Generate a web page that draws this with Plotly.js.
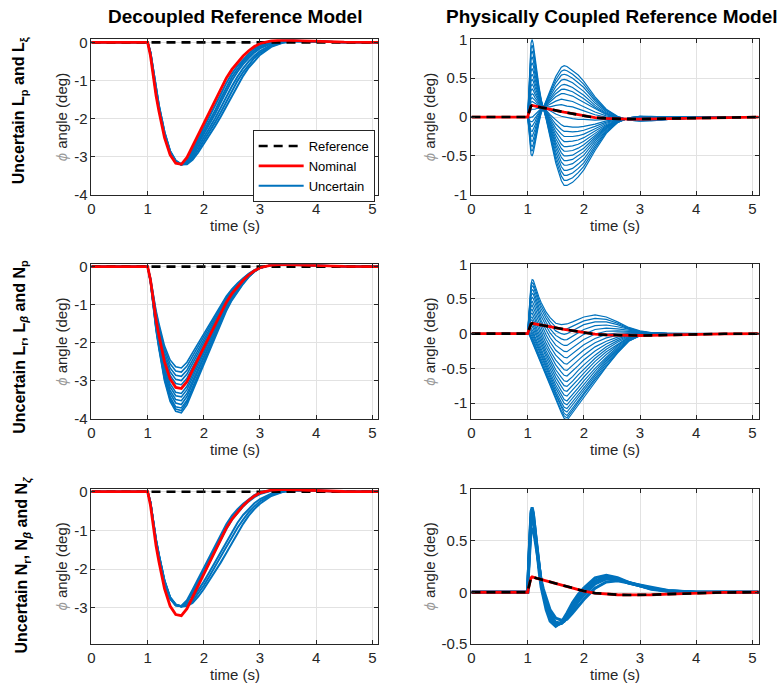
<!DOCTYPE html>
<html><head><meta charset="utf-8">
<script src="https://cdn.plot.ly/plotly-3.0.1.min.js"></script>
<style>html,body{margin:0;padding:0;background:#fff}#chart{width:782px;height:693px}</style>
</head><body><div id="chart"></div>
<script>
// ---------- time grids ----------
const T_DEC = [0,1.0,1.05,1.1,1.15,1.2,1.3,1.4,1.5,1.6,1.7,1.8,1.9,2.0,2.1,2.2,2.3,2.4,2.5,2.6,2.7,2.8,2.9,3.0,3.2,3.4,3.6,3.8,4.0,4.5,5.12];
const T_CPL = [0,1.0,1.02,1.04,1.06,1.08,1.10,1.13,1.16,1.2,1.24,1.28,1.33,1.4,1.5,1.6,1.65,1.7,1.8,1.9,2.0,2.2,2.4,2.6,2.8,3.0,3.2,3.5,4.0,4.5,5.12];

// ---------- decoupled reference model (left column) ----------
const REF_DEC_T = [0, 5.12];
const REF_DEC = [0, 0];
const NOM_DEC = [0,0,-.35,-.9,-1.4,-1.8,-2.5,-2.95,-3.17,-3.2,-3.02,-2.72,-2.42,-2.13,-1.83,-1.53,-1.22,-.94,-.71,-.52,-.36,-.22,-.11,-.03,.04,.06,.05,.03,.02,.005,0];

const UNC_DEC_LP = [
  [0,0,-.32,-.86,-1.36,-1.76,-2.46,-2.93,-3.16,-3.21,-3.08,-2.82,-2.53,-2.27,-1.99,-1.69,-1.37,-1.07,-.82,-.62,-.45,-.30,-.17,-.08,.02,.05,.05,.03,.02,.005,0],
  [0,0,-.3,-.84,-1.34,-1.74,-2.44,-2.92,-3.15,-3.21,-3.11,-2.87,-2.6,-2.34,-2.07,-1.79,-1.48,-1.18,-.91,-.7,-.51,-.36,-.22,-.12,0,.04,.045,.03,.02,.005,0],
  [0,0,-.29,-.82,-1.32,-1.72,-2.42,-2.9,-3.14,-3.21,-3.13,-2.92,-2.66,-2.41,-2.15,-1.88,-1.58,-1.28,-1.0,-.77,-.57,-.41,-.27,-.16,-.03,.03,.04,.03,.02,.005,0],
  [0,0,-.27,-.78,-1.28,-1.68,-2.38,-2.87,-3.12,-3.21,-3.17,-2.98,-2.74,-2.5,-2.26,-2.0,-1.72,-1.42,-1.15,-.9,-.68,-.5,-.35,-.23,-.07,0,.03,.03,.02,.005,0],
  [0,0,-.265,-.77,-1.26,-1.66,-2.36,-2.86,-3.11,-3.2,-3.19,-3.04,-2.82,-2.59,-2.35,-2.1,-1.84,-1.55,-1.27,-1.01,-.78,-.58,-.41,-.28,-.1,-.005,.03,.03,.02,.005,0],
  [0,0,-.26,-.76,-1.25,-1.65,-2.35,-2.85,-3.1,-3.2,-3.2,-3.08,-2.89,-2.67,-2.44,-2.2,-1.95,-1.68,-1.4,-1.12,-.88,-.66,-.48,-.33,-.12,-.01,.03,.03,.02,.005,0]
];

const UNC_DEC_LR = [
  [0,0,-.29,-.75,-1.16,-1.49,-2.08,-2.45,-2.63,-2.66,-2.51,-2.26,-2.01,-1.77,-1.52,-1.27,-1.01,-.78,-.59,-.43,-.3,-.18,-.09,-.02,.03,.05,.04,.025,.017,.004,0],
  [0,0,-.30,-.78,-1.21,-1.56,-2.16,-2.55,-2.74,-2.77,-2.61,-2.35,-2.09,-1.84,-1.58,-1.32,-1.06,-.81,-.61,-.45,-.31,-.19,-.1,-.03,.035,.05,.043,.026,.017,.004,0],
  [0,0,-.32,-.81,-1.26,-1.62,-2.25,-2.66,-2.85,-2.88,-2.72,-2.45,-2.18,-1.92,-1.65,-1.38,-1.1,-.85,-.64,-.47,-.32,-.2,-.1,-.03,.036,.054,.045,.027,.018,.005,0],
  [0,0,-.33,-.84,-1.31,-1.68,-2.34,-2.76,-2.96,-2.99,-2.82,-2.54,-2.26,-1.99,-1.71,-1.43,-1.14,-.88,-.66,-.49,-.34,-.21,-.1,-.03,.04,.056,.047,.028,.019,.005,0],
  [0,0,-.34,-.87,-1.36,-1.75,-2.43,-2.86,-3.07,-3.1,-2.93,-2.64,-2.35,-2.07,-1.78,-1.48,-1.18,-.91,-.69,-.5,-.35,-.21,-.11,-.03,.04,.06,.05,.03,.02,.005,0],
  [0,0,-.36,-.94,-1.46,-1.87,-2.6,-3.07,-3.3,-3.33,-3.14,-2.83,-2.52,-2.23,-1.92,-1.61,-1.29,-1.0,-.76,-.56,-.39,-.24,-.12,-.04,.04,.06,.05,.03,.02,.005,0],
  [0,0,-.37,-.96,-1.5,-1.93,-2.68,-3.16,-3.39,-3.42,-3.23,-2.91,-2.59,-2.28,-1.96,-1.64,-1.31,-1.01,-.76,-.56,-.39,-.24,-.12,-.03,.04,.064,.054,.032,.021,.005,0],
  [0,0,-.38,-.99,-1.54,-1.98,-2.75,-3.25,-3.49,-3.52,-3.33,-3.0,-2.68,-2.37,-2.05,-1.72,-1.38,-1.07,-.81,-.6,-.42,-.26,-.13,-.04,.04,.07,.055,.033,.022,.005,0],
  [0,0,-.4,-1.02,-1.58,-2.03,-2.83,-3.33,-3.58,-3.62,-3.41,-3.07,-2.74,-2.41,-2.07,-1.73,-1.38,-1.06,-.8,-.59,-.41,-.25,-.12,-.03,.045,.068,.056,.034,.023,.006,0],
  [0,0,-.4,-1.04,-1.62,-2.09,-2.9,-3.42,-3.68,-3.71,-3.51,-3.17,-2.83,-2.5,-2.16,-1.82,-1.46,-1.13,-.86,-.64,-.44,-.27,-.14,-.04,.05,.07,.06,.035,.023,.006,0],
  [0,0,-.41,-1.06,-1.65,-2.12,-2.95,-3.48,-3.74,-3.78,-3.56,-3.21,-2.86,-2.51,-2.16,-1.81,-1.44,-1.11,-.84,-.61,-.43,-.26,-.13,-.04,.047,.07,.06,.035,.024,.006,0],
  [0,0,-.42,-1.08,-1.68,-2.16,-3.0,-3.54,-3.8,-3.84,-3.63,-3.28,-2.93,-2.59,-2.24,-1.88,-1.51,-1.17,-.89,-.66,-.46,-.28,-.14,-.04,.05,.07,.06,.036,.024,.006,0]
];

const UNC_DEC_NR = [
  [0,0,-.3,-.82,-1.3,-1.68,-2.35,-2.76,-2.93,-2.95,-2.8,-2.53,-2.25,-1.97,-1.68,-1.39,-1.1,-.84,-.62,-.45,-.31,-.19,-.09,-.02,.04,.06,.05,.03,.02,.005,0],
  [0,0,-.295,-.81,-1.29,-1.67,-2.34,-2.755,-2.93,-2.955,-2.83,-2.58,-2.31,-2.03,-1.75,-1.46,-1.17,-.9,-.67,-.49,-.34,-.22,-.11,-.04,.03,.055,.05,.03,.02,.005,0],
  [0,0,-.29,-.8,-1.28,-1.66,-2.33,-2.75,-2.93,-2.96,-2.86,-2.63,-2.37,-2.1,-1.82,-1.53,-1.24,-.97,-.73,-.54,-.38,-.25,-.14,-.06,.02,.05,.05,.03,.02,.005,0],
  [0,0,-.28,-.78,-1.26,-1.64,-2.31,-2.74,-2.92,-2.96,-2.91,-2.76,-2.55,-2.32,-2.07,-1.81,-1.54,-1.28,-1.03,-.8,-.6,-.44,-.3,-.19,-.05,.02,.04,.03,.02,.005,0],
  [0,0,-.275,-.775,-1.25,-1.63,-2.3,-2.73,-2.915,-2.96,-2.93,-2.82,-2.63,-2.42,-2.18,-1.94,-1.69,-1.43,-1.18,-.93,-.72,-.53,-.38,-.25,-.08,0,.035,.03,.02,.005,0],
  [0,0,-.27,-.77,-1.24,-1.62,-2.29,-2.72,-2.91,-2.96,-2.95,-2.87,-2.71,-2.51,-2.29,-2.06,-1.83,-1.58,-1.32,-1.06,-.83,-.62,-.45,-.31,-.11,-.01,.03,.03,.02,.005,0]
];

// ---------- physically coupled reference model (right column) ----------
const REF_CPL = [0,0,.05,.1,.14,.15,.148,.14,.135,.13,.124,.118,.112,.10,.085,.07,.062,.055,.04,.025,.012,-.008,-.018,-.024,-.026,-.026,-.024,-.018,-.008,-.002,0];
const NOM_CPL = [0,0,.05,.1,.14,.15,.148,.14,.135,.13,.124,.118,.112,.10,.085,.07,.062,.055,.04,.025,.012,-.008,-.018,-.024,-.026,-.026,-.024,-.018,-.008,-.002,0];

const UNC_CPL_LP = [
  [0,0,.31,.70,.95,1.0,.94,.78,.60,.40,.23,.12,-.03,-.26,-.59,-.82,-.88,-.88,-.84,-.77,-.68,-.43,-.21,-.07,-.01,.01,.01,0,0,0,0],
  [0,0,.285,.645,.88,.925,.87,.725,.56,.375,.22,.12,-.02,-.235,-.545,-.76,-.815,-.815,-.78,-.715,-.635,-.40,-.195,-.07,-.01,.01,.005,0,0,0,0],
  [0,0,.26,.59,.81,.85,.80,.67,.52,.35,.21,.12,-.01,-.21,-.50,-.70,-.75,-.75,-.72,-.66,-.59,-.37,-.18,-.07,-.01,.01,0,0,0,0,0],
  [0,0,.24,.54,.735,.775,.73,.61,.48,.33,.20,.12,0,-.185,-.45,-.64,-.685,-.685,-.66,-.605,-.54,-.34,-.165,-.065,-.01,.005,0,0,0,0,0],
  [0,0,.22,.49,.66,.70,.66,.55,.44,.31,.19,.12,.01,-.16,-.40,-.58,-.62,-.62,-.60,-.55,-.49,-.31,-.15,-.06,-.01,0,0,0,0,0,0],
  [0,0,.195,.435,.59,.625,.59,.495,.40,.285,.18,.12,.02,-.135,-.36,-.52,-.56,-.56,-.545,-.50,-.445,-.285,-.14,-.055,-.015,0,0,-.005,0,0,0],
  [0,0,.17,.38,.52,.55,.52,.44,.36,.26,.17,.12,.03,-.11,-.32,-.46,-.50,-.50,-.49,-.45,-.40,-.26,-.13,-.05,-.02,0,0,-.01,0,0,0],
  [0,0,.15,.335,.46,.485,.46,.39,.32,.24,.165,.12,.04,-.09,-.275,-.405,-.44,-.44,-.43,-.40,-.355,-.235,-.12,-.05,-.02,-.005,-.005,-.01,-.005,0,0],
  [0,0,.13,.29,.40,.42,.40,.34,.28,.22,.16,.12,.05,-.07,-.23,-.35,-.38,-.38,-.37,-.35,-.31,-.21,-.11,-.05,-.02,-.01,-.01,-.01,-.01,0,0],
  [0,0,.115,.25,.34,.36,.345,.295,.25,.20,.15,.12,.06,-.045,-.185,-.285,-.315,-.315,-.31,-.295,-.265,-.18,-.095,-.045,-.02,-.01,-.01,-.01,-.01,0,0],
  [0,0,.10,.21,.28,.30,.29,.25,.22,.18,.14,.12,.07,-.02,-.14,-.22,-.25,-.25,-.25,-.24,-.22,-.15,-.08,-.04,-.02,-.01,-.01,-.01,-.01,0,0],
  [0,0,.085,.175,.235,.25,.24,.215,.19,.165,.135,.12,.08,.005,-.09,-.16,-.185,-.185,-.19,-.185,-.17,-.12,-.065,-.035,-.02,-.015,-.015,-.01,-.01,0,0],
  [0,0,.07,.14,.19,.20,.19,.18,.16,.15,.13,.12,.09,.03,-.04,-.10,-.12,-.12,-.13,-.13,-.12,-.09,-.05,-.03,-.02,-.02,-.02,-.01,-.01,0,0],
  [0,0,.04,.07,.09,.10,.10,.10,.11,.11,.12,.12,.11,.08,.04,.01,0,0,-.02,-.03,-.03,-.04,-.03,-.03,-.03,-.02,-.02,-.02,-.01,0,0],
  [0,0,.01,-.01,0,0,.01,.03,.05,.08,.11,.12,.13,.13,.15,.16,.15,.14,.13,.10,.08,.03,0,-.02,-.03,-.03,-.03,-.02,-.01,0,0],
  [0,0,-.01,-.05,-.06,-.06,-.045,-.015,.02,.06,.10,.12,.14,.16,.205,.23,.225,.215,.20,.165,.135,.065,.015,-.015,-.03,-.035,-.03,-.02,-.01,0,0],
  [0,0,-.03,-.09,-.12,-.12,-.10,-.06,-.01,.04,.09,.12,.15,.19,.26,.30,.30,.29,.27,.23,.19,.10,.03,-.01,-.03,-.04,-.03,-.02,-.01,0,0],
  [0,0,-.05,-.135,-.18,-.185,-.16,-.11,-.05,.02,.085,.12,.16,.215,.30,.355,.36,.35,.325,.28,.235,.125,.04,-.01,-.03,-.04,-.035,-.025,-.01,0,0],
  [0,0,-.07,-.18,-.24,-.25,-.22,-.16,-.09,0,.08,.12,.17,.24,.34,.41,.42,.41,.38,.33,.28,.15,.05,-.01,-.03,-.04,-.04,-.03,-.01,0,0],
  [0,0,-.09,-.225,-.30,-.315,-.285,-.21,-.125,-.02,.07,.12,.18,.265,.39,.475,.485,.475,.44,.385,.33,.18,.065,-.005,-.035,-.045,-.04,-.03,-.01,0,0],
  [0,0,-.11,-.27,-.36,-.38,-.35,-.26,-.16,-.04,.06,.12,.19,.29,.44,.54,.55,.54,.50,.44,.38,.21,.08,0,-.04,-.05,-.04,-.03,-.01,0,0],
  [0,0,-.13,-.315,-.42,-.44,-.405,-.305,-.19,-.06,.055,.12,.195,.31,.48,.59,.605,.595,.55,.49,.42,.235,.09,.005,-.04,-.05,-.045,-.03,-.01,0,0],
  [0,0,-.15,-.36,-.48,-.50,-.46,-.35,-.22,-.08,.05,.12,.20,.33,.52,.64,.66,.65,.60,.54,.46,.26,.10,.01,-.04,-.05,-.05,-.03,-.01,0,0]
];

const UNC_CPL_LR = [
  [0,0,.25,.55,.72,.78,.77,.70,.62,.53,.45,.38,.31,.23,.15,.13,.13,.14,.17,.21,.24,.27,.24,.17,.09,.04,.015,0,0,0,0],
  [0,0,.24,.52,.68,.735,.725,.655,.575,.485,.405,.335,.265,.18,.095,.065,.06,.07,.105,.15,.185,.22,.205,.15,.08,.035,.0125,0,0,0,0],
  [0,0,.23,.49,.64,.69,.68,.61,.53,.44,.36,.29,.22,.13,.04,0,-.01,0,.04,.09,.13,.17,.17,.13,.07,.03,.01,0,0,0,0],
  [0,0,.215,.455,.59,.635,.625,.555,.475,.385,.305,.235,.165,.07,-.025,-.075,-.09,-.085,-.04,.015,.06,.115,.125,.10,.06,.03,.01,0,0,0,0],
  [0,0,.20,.42,.54,.58,.57,.50,.42,.33,.25,.18,.11,.01,-.09,-.15,-.17,-.17,-.12,-.06,-.01,.06,.08,.07,.05,.03,.01,0,0,0,0],
  [0,0,.18,.38,.49,.525,.505,.44,.365,.275,.195,.125,.045,-.055,-.165,-.23,-.255,-.26,-.205,-.14,-.085,-.005,.035,.04,.035,.025,.01,0,0,0,0],
  [0,0,.16,.34,.44,.47,.44,.38,.31,.22,.14,.07,-.02,-.12,-.24,-.31,-.34,-.35,-.29,-.22,-.16,-.07,-.01,.01,.02,.02,.01,0,0,0,0],
  [0,0,.145,.305,.39,.41,.38,.32,.25,.16,.08,.01,-.08,-.185,-.31,-.395,-.43,-.44,-.375,-.305,-.235,-.13,-.06,-.02,.005,.015,.01,0,0,0,0],
  [0,0,.13,.27,.34,.35,.32,.26,.19,.10,.02,-.05,-.14,-.25,-.38,-.48,-.52,-.53,-.46,-.39,-.31,-.19,-.11,-.05,-.01,.01,.01,0,0,0,0],
  [0,0,.115,.235,.29,.295,.265,.205,.135,.05,-.03,-.105,-.195,-.305,-.45,-.555,-.60,-.61,-.54,-.46,-.38,-.25,-.15,-.075,-.02,.005,.01,0,0,0,0],
  [0,0,.10,.20,.24,.24,.21,.15,.08,0,-.08,-.16,-.25,-.36,-.52,-.63,-.68,-.69,-.62,-.53,-.45,-.31,-.19,-.10,-.03,0,.01,0,0,0,0],
  [0,0,.09,.17,.20,.195,.165,.105,.035,-.045,-.125,-.205,-.295,-.41,-.575,-.695,-.75,-.76,-.685,-.595,-.51,-.355,-.225,-.125,-.04,-.005,.005,0,0,0,0],
  [0,0,.08,.14,.16,.15,.12,.06,-.01,-.09,-.17,-.25,-.34,-.46,-.63,-.76,-.82,-.83,-.75,-.66,-.57,-.40,-.26,-.15,-.05,-.01,0,0,0,0,0],
  [0,0,.065,.11,.12,.105,.075,.01,-.055,-.135,-.215,-.295,-.385,-.51,-.685,-.825,-.885,-.90,-.815,-.72,-.625,-.45,-.30,-.17,-.06,-.015,0,0,0,0,0],
  [0,0,.05,.08,.08,.06,.03,-.04,-.10,-.18,-.26,-.34,-.43,-.56,-.74,-.89,-.95,-.97,-.88,-.78,-.68,-.50,-.34,-.19,-.07,-.02,0,0,0,0,0],
  [0,0,.04,.055,.05,.025,-.01,-.075,-.135,-.215,-.295,-.375,-.47,-.60,-.785,-.94,-1.005,-1.025,-.93,-.83,-.725,-.54,-.365,-.21,-.08,-.02,0,0,0,0,0],
  [0,0,.03,.03,.02,-.01,-.05,-.11,-.17,-.25,-.33,-.41,-.51,-.64,-.83,-.99,-1.06,-1.08,-.98,-.88,-.77,-.58,-.39,-.23,-.09,-.02,0,0,0,0,0],
  [0,0,.02,.01,-.01,-.045,-.08,-.14,-.205,-.285,-.365,-.445,-.54,-.675,-.865,-1.035,-1.105,-1.13,-1.025,-.925,-.81,-.61,-.415,-.245,-.095,-.025,0,0,0,0,0],
  [0,0,.01,-.01,-.04,-.08,-.11,-.17,-.24,-.32,-.40,-.48,-.57,-.71,-.90,-1.08,-1.15,-1.18,-1.07,-.97,-.85,-.64,-.44,-.26,-.10,-.03,0,0,0,0,0],
  [0,0,.005,-.025,-.06,-.10,-.135,-.195,-.26,-.34,-.42,-.50,-.595,-.735,-.93,-1.11,-1.185,-1.215,-1.105,-1.0,-.88,-.665,-.46,-.27,-.105,-.03,0,0,0,0,0],
  [0,0,0,-.04,-.08,-.12,-.16,-.22,-.28,-.36,-.44,-.52,-.62,-.76,-.96,-1.14,-1.22,-1.25,-1.14,-1.03,-.91,-.69,-.48,-.28,-.11,-.03,0,0,0,0,0]
];

const UNC_CPL_NR = [
  [0,0,.31,.62,.78,.82,.77,.62,.44,.22,.05,-.06,-.17,-.28,-.33,-.29,-.25,-.20,-.10,-.02,.04,.14,.165,.14,.095,.06,.03,.01,0,0,0],
  [0,0,.30,.60,.76,.80,.76,.62,.46,.26,.09,-.02,-.13,-.25,-.32,-.30,-.27,-.23,-.13,-.05,.01,.11,.15,.13,.09,.06,.035,.012,0,0,0],
  [0,0,.29,.57,.72,.76,.72,.60,.45,.26,.10,-.01,-.12,-.23,-.31,-.30,-.28,-.24,-.15,-.07,-.01,.095,.14,.13,.09,.062,.037,.013,0,0,0],
  [0,0,.27,.54,.69,.72,.69,.57,.43,.25,.10,0,-.10,-.21,-.29,-.30,-.28,-.25,-.17,-.09,-.03,.08,.13,.125,.095,.065,.04,.015,0,0,0],
  [0,0,.23,.47,.60,.62,.60,.51,.40,.25,.12,.03,-.06,-.17,-.25,-.27,-.27,-.26,-.20,-.13,-.07,.04,.10,.11,.09,.07,.045,.018,0,0,0]
];

// ---------- tick labels / texts ----------
const X_TICKS = [0,1,2,3,4,5];
const X_TICK_TEXT = ['0','1','2','3','4','5'];
const Y_TICKS_DEC = [-4,-3,-2,-1,0];
const Y_TICK_TEXT_DEC = ['-4','-3','-2','-1','0'];
const Y_TICKS_DEC3 = [-3,-2,-1,0];
const Y_TICK_TEXT_DEC3 = ['-3','-2','-1','0'];
const Y_TICKS_CPL = [-1,-0.5,0,0.5,1];
const Y_TICK_TEXT_CPL = ['-1','-0.5','0','0.5','1'];
const Y_TICKS_CPL3 = [-0.5,0,0.5,1];
const Y_TICK_TEXT_CPL3 = ['-0.5','0','0.5','1'];
const COL_TITLES = ['Decoupled Reference Model','Physically Coupled Reference Model'];
const ROW_LABELS = [
  'Uncertain L<sub>p</sub> and L<sub>ξ</sub>',
  'Uncertain L<sub>r</sub>, L<sub><i>β</i></sub> and N<sub>p</sub>',
  'Uncertain N<sub>r</sub>, N<sub><i>β</i></sub> and N<sub><i>ζ</i></sub>'
];
const LEG_NAMES = ['Reference','Nominal','Uncertain'];

// ---------- build ----------
const BLUE = '#0072BD', RED = '#FF0000', BLACK = '#000000';
const FONT = 'Liberation Sans, Arial, Helvetica, sans-serif';
const traces = [];

function addPanel(ax, T, unc, uw, nomT, nom, refT, ref, refOnTop, legend) {
  const xa = 'x' + (ax === 1 ? '' : ax), ya = 'y' + (ax === 1 ? '' : ax);
  unc.forEach((c, i) => traces.push({
    x: T, y: c, xaxis: xa, yaxis: ya, type: 'scatter', mode: 'lines',
    line: {color: BLUE, width: uw}, name: LEG_NAMES[2],
    showlegend: legend && i === 0, legendrank: 3
  }));
  const nomTr = {x: nomT, y: nom, xaxis: xa, yaxis: ya, type: 'scatter', mode: 'lines',
    line: {color: RED, width: 2.8}, name: LEG_NAMES[1], showlegend: legend, legendrank: 2};
  const refTr = {x: refT, y: ref, xaxis: xa, yaxis: ya, type: 'scatter', mode: 'lines',
    line: {color: BLACK, width: 2.6, dash: '9px,6px'}, name: LEG_NAMES[0], showlegend: legend, legendrank: 1};
  if (refOnTop) { traces.push(nomTr, refTr); } else { traces.push(refTr, nomTr); }
}

addPanel(1, T_DEC, UNC_DEC_LP, 2.0, T_DEC, NOM_DEC, REF_DEC_T, REF_DEC, false, true);
addPanel(2, T_CPL, UNC_CPL_LP, 1.2, T_CPL, NOM_CPL, T_CPL, REF_CPL, true, false);
addPanel(3, T_DEC, UNC_DEC_LR, 1.6, T_DEC, NOM_DEC, REF_DEC_T, REF_DEC, false, false);
addPanel(4, T_CPL, UNC_CPL_LR, 1.2, T_CPL, NOM_CPL, T_CPL, REF_CPL, true, false);
addPanel(5, T_DEC, UNC_DEC_NR, 2.0, T_DEC, NOM_DEC, REF_DEC_T, REF_DEC, false, false);
addPanel(6, T_CPL, UNC_CPL_NR, 3.0, T_CPL, NOM_CPL, T_CPL, REF_CPL, true, false);

const AXC = '#262626';
const tickFont = {family: FONT, size: 15, color: AXC};
function xax(domain, anchor) {
  return {domain, anchor, range: [0, 5.11], tickmode: 'array', tickvals: X_TICKS, ticktext: X_TICK_TEXT,
    showline: true, mirror: 'ticks', linecolor: AXC, linewidth: 1, ticks: 'inside', ticklen: 4, tickcolor: AXC,
    showgrid: true, gridcolor: '#e2e2e2', zeroline: false, tickfont: tickFont, fixedrange: true,
    title: {text: 'time (s)', font: {family: FONT, size: 15, color: AXC}, standoff: 4}};
}
function yax(domain, anchor, range, tv, tt) {
  return {domain, anchor, range, tickmode: 'array', tickvals: tv, ticktext: tt,
    showline: true, mirror: 'ticks', linecolor: AXC, linewidth: 1, ticks: 'inside', ticklen: 4, tickcolor: AXC,
    showgrid: true, gridcolor: '#e2e2e2', zeroline: false, tickfont: tickFont, fixedrange: true,
    title: {text: '<span style="color:#9a9a9a"><i>ϕ</i></span> angle (deg)', font: {family: FONT, size: 15, color: AXC}, standoff: 2}};
}
const XL = [0.1170, 0.4840], XR = [0.6029, 0.9700];
const R1 = [0.7189, 0.9433], R2 = [0.3954, 0.6186], R3 = [0.0707, 0.2947];

const layout = {
  width: 782, height: 693, margin: {l: 0, r: 0, t: 0, b: 0},
  paper_bgcolor: '#fff', plot_bgcolor: '#fff', hovermode: false,
  font: {family: FONT, color: AXC},
  xaxis: xax(XL, 'y'), yaxis: yax(R1, 'x', [-4, 0.08], Y_TICKS_DEC, Y_TICK_TEXT_DEC),
  xaxis2: xax(XR, 'y2'), yaxis2: yax(R1, 'x2', [-1, 1], Y_TICKS_CPL, Y_TICK_TEXT_CPL),
  xaxis3: xax(XL, 'y3'), yaxis3: yax(R2, 'x3', [-4, 0.06], Y_TICKS_DEC, Y_TICK_TEXT_DEC),
  xaxis4: xax(XR, 'y4'), yaxis4: yax(R2, 'x4', [-1.23, 1], Y_TICKS_CPL, Y_TICK_TEXT_CPL),
  xaxis5: xax(XL, 'y5'), yaxis5: yax(R3, 'x5', [-3.93, 0.075], Y_TICKS_DEC3, Y_TICK_TEXT_DEC3),
  xaxis6: xax(XR, 'y6'), yaxis6: yax(R3, 'x6', [-0.5, 1], Y_TICKS_CPL3, Y_TICK_TEXT_CPL3),
  showlegend: true,
  legend: {x: 0.3231, y: 0.8124, xanchor: 'left', yanchor: 'top', bgcolor: '#ffffff',
    bordercolor: AXC, borderwidth: 1, font: {family: FONT, size: 13, color: '#000'}, tracegroupgap: 0, itemwidth: 45},
  annotations: [
    {text: '<b>' + COL_TITLES[0] + '</b>', xref: 'paper', yref: 'paper', x: 0.3005, y: 0.9755, xanchor: 'center', yanchor: 'middle', showarrow: false, font: {family: FONT, size: 19, color: '#000'}},
    {text: '<b>' + COL_TITLES[1] + '</b>', xref: 'paper', yref: 'paper', x: 0.7826, y: 0.9755, xanchor: 'center', yanchor: 'middle', showarrow: false, font: {family: FONT, size: 19, color: '#000'}},
    {text: '<b>' + ROW_LABELS[0] + '</b>', xref: 'paper', yref: 'paper', x: 0.0260, y: 0.8400, xanchor: 'center', yanchor: 'middle', textangle: -90, showarrow: false, font: {family: FONT, size: 16, color: '#000'}},
    {text: '<b>' + ROW_LABELS[1] + '</b>', xref: 'paper', yref: 'paper', x: 0.0260, y: 0.5000, xanchor: 'center', yanchor: 'middle', textangle: -90, showarrow: false, font: {family: FONT, size: 16, color: '#000'}},
    {text: '<b>' + ROW_LABELS[2] + '</b>', xref: 'paper', yref: 'paper', x: 0.0300, y: 0.1847, xanchor: 'center', yanchor: 'middle', textangle: -90, showarrow: false, font: {family: FONT, size: 16, color: '#000'}}
  ]
};

Plotly.newPlot('chart', traces, layout, {staticPlot: true, displayModeBar: false});
</script>
</body></html>
